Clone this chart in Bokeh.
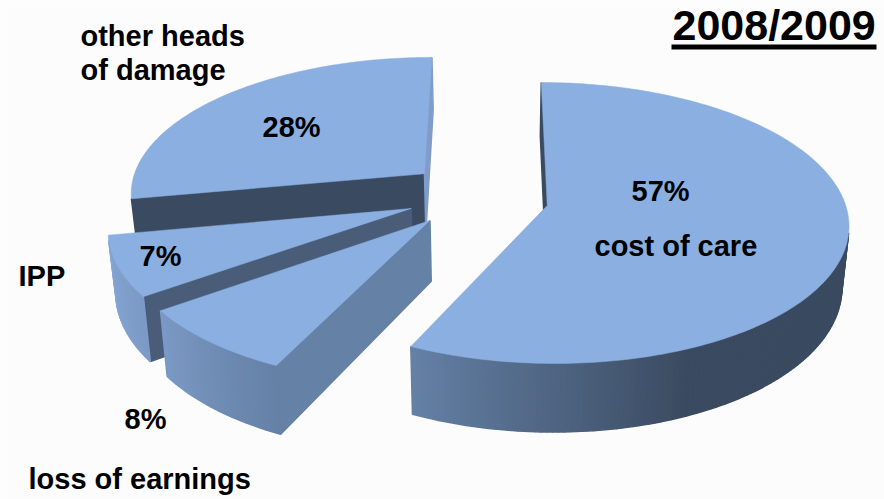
import numpy as np
from bokeh.core.properties import value
from bokeh.embed import file_html
from bokeh.models import ColumnDataSource, Range1d
from bokeh.plotting import figure
from bokeh.resources import INLINE

# Shares of each head of damage, clockwise from twelve o'clock
categories = ["cost of care", "loss of earnings", "IPP", "other heads of damage"]
shares = [57, 8, 7, 28]
share_labels = ["57%", "8%", "7%", "28%"]
title_text = "2008/2009"

# How far each slice is pulled out on the pie's ground plane (in radii)
pull_x = [0.18, -0.21, -0.275, -0.238]
pull_y = [0.0, 0.107, 0.0215, -0.236]

# Camera: vanishing centre, radii in pixels, perspective strength, wall height
CX, CY, RX, RY, K, WALL, BOTTOM_SHRINK = 493.0, 205.0, 298.5, 138.3, 0.1246, 60.0, 0.98

TOP_COLOR = "#8aafe0"
start_wall_colors = ["#3a4a60", "#6581a6", "#4a5d78", "#3a4a60"]
end_wall_colors = ["#3a4a60", "#6581a6", "#4a5d78", "#7f9dc8"]

# Rim shading by compass angle (degrees): dark on the right, light on the left
rim_angles = [0, 156, 205, 234, 259, 360]
rim_rgb = np.array([
    [0x3a, 0x4a, 0x60], [0x3a, 0x4a, 0x60], [0x65, 0x81, 0xa6],
    [0x7c, 0x9a, 0xc6], [0x86, 0xa6, 0xd4], [0x86, 0xa6, 0xd4],
], dtype=float)


def rim_color(deg):
    r, g, b = (np.interp(deg, rim_angles, rim_rgb[:, i]) for i in range(3))
    return f"#{int(r):02x}{int(g):02x}{int(b):02x}"


def project(gx, gy):
    """Ground-plane point (in radii, +y towards the viewer) to the top-plane screen point."""
    f = 1.0 / (1.0 - K * gy)
    return CX + RX * gx * f, CY + RY * gy * f


def project_low(gx, gy):
    """Same ground point on the underside of the pie."""
    x, y = project(gx, gy)
    f = 1.0 / (1.0 - K * gy)
    return CX + (x - CX) * BOTTOM_SHRINK, y + WALL * f


def rim_point(px, py, deg):
    t = np.radians(deg)
    return px + np.sin(t), py - np.cos(t)


def faces_viewer(quad):
    xs, ys = zip(*quad)
    area = sum(xs[i] * ys[(i + 1) % 4] - xs[(i + 1) % 4] * ys[i] for i in range(4))
    return area < 0


p = figure(
    width=884, height=499,
    x_range=Range1d(0, 884), y_range=Range1d(499, 0),
    output_backend="svg", toolbar_location=None,
    background_fill_color="#fcfcfc", border_fill_color="#fcfcfc",
    min_border=0, outline_line_color=None,
)
p.axis.visible = False
p.grid.visible = False

walls = dict(xs=[], ys=[], color=[])


def add_wall(g0, g1, color):
    quad = [project(*g0), project(*g1), project_low(*g1), project_low(*g0)]
    if faces_viewer(quad):
        walls["xs"].append([q[0] for q in quad])
        walls["ys"].append([q[1] for q in quad])
        walls["color"].append(color)


edges = np.cumsum([0] + shares) / sum(shares) * 360.0

# Slices are painted from the back of the scene to the front
for i in [3, 2, 1, 0]:
    a0, a1 = edges[i], edges[i + 1]
    apex = (pull_x[i], pull_y[i])
    angles = np.linspace(a0, a1, max(int(a1 - a0), 4) + 1)
    arc = [rim_point(*apex, a) for a in angles]

    start = len(walls["xs"])
    add_wall(apex, arc[0], start_wall_colors[i])
    add_wall(arc[-1], apex, end_wall_colors[i])
    for j in range(len(arc) - 1):
        add_wall(arc[j], arc[j + 1], rim_color(0.5 * (angles[j] + angles[j + 1])))

    outline = [project(*apex)] + [project(*g) for g in arc]
    src = ColumnDataSource({k: v[start:] for k, v in walls.items()})
    p.patches("xs", "ys", source=src, fill_color="color", line_color="color", line_width=1.5)
    p.patch([q[0] for q in outline], [q[1] for q in outline],
            fill_color=TOP_COLOR, line_color=TOP_COLOR, line_width=0.5)

font = value("Liberation Sans")


def draw_text(rows, size):
    # The svg backend sets alphabetic text low, so lift it back onto its baseline
    lift = 0.35 * size
    p.text(
        x=[r[1] for r in rows], y=[r[2] - lift for r in rows], text=[r[0] for r in rows],
        text_font=font, text_font_style="bold", text_font_size=f"{size}px",
        text_color="#000000", text_baseline="alphabetic", text_align="left",
    )


draw_text([
    (share_labels[0], 631, 201), (categories[0], 594, 256),
    (share_labels[3], 262, 137), (share_labels[2], 139, 266),
    (share_labels[1], 124, 429), ("IPP", 18, 286),
    ("other heads", 80, 46), ("of damage", 80, 80),
    (categories[1], 28, 489),
], 29)
draw_text([(title_text, 672, 40)], 43)

# Underline below the year
p.segment(x0=[671], x1=[876], y0=[46.5], y1=[46.5], line_color="#000000", line_width=5)

open("out.html", "w").write(file_html(p, INLINE))
